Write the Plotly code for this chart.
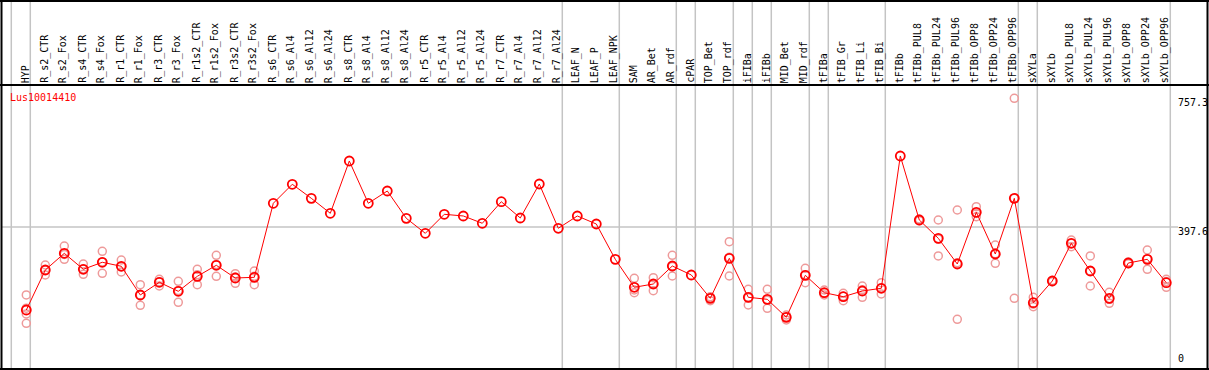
import plotly.graph_objects as go

# ---------------- data ----------------
samples = [
    "HYP", "R_s2_CTR", "R_s2_Fox", "R_s4_CTR", "R_s4_Fox", "R_r1_CTR", "R_r1_Fox",
    "R_r3_CTR", "R_r3_Fox", "R_r1s2_CTR", "R_r1s2_Fox", "R_r3s2_CTR", "R_r3s2_Fox",
    "R_s6_CTR", "R_s6_Al4", "R_s6_Al12", "R_s6_Al24", "R_s8_CTR", "R_s8_Al4",
    "R_s8_Al12", "R_s8_Al24", "R_r5_CTR", "R_r5_Al4", "R_r5_Al12", "R_r5_Al24",
    "R_r7_CTR", "R_r7_Al4", "R_r7_Al12", "R_r7_Al24", "LEAF_N", "LEAF_P", "LEAF_NPK",
    "SAM", "AR_Bet", "AR_rdf", "cPAR", "TOP_Bet", "TOP_rdf", "iFIBa", "iFIBb",
    "MID_Bet", "MID_rdf", "tFIBa", "tFIB_Gr", "tFIB_Li", "tFIB_Bi", "tFIBb",
    "tFIBb_PUL8", "tFIBb_PUL24", "tFIBb_PUL96", "tFIBb_OPP8", "tFIBb_OPP24",
    "tFIBb_OPP96", "sXYLa", "sXYLb", "sXYLb_PUL8", "sXYLb_PUL24", "sXYLb_PUL96",
    "sXYLb_OPP8", "sXYLb_OPP24", "sXYLb_OPP96",
]

# group sizes (separators are drawn between groups)
group_sizes = [1, 28, 3, 3, 1, 2, 1, 1, 2, 1, 3, 7, 1, 7]

mean_values = [
    165.7, 277.5, 324.2, 279.5, 299.1, 287.9, 207.7, 243.2, 218.0, 259.9, 290.7,
    255.2, 257.1, 464.0, 517.1, 477.9, 436.0, 582.2, 464.0, 498.3, 422.0, 380.1,
    433.2, 428.5, 408.1, 468.4, 422.9, 517.9, 394.1, 428.5, 406.1, 307.4, 229.2,
    238.4, 288.7, 263.6, 198.4, 310.2, 201.2, 195.6, 145.3, 262.7, 214.1, 202.9,
    218.8, 226.4, 596.2, 417.3, 366.1, 294.3, 438.8, 322.2, 477.9, 186.1, 246.8,
    352.2, 274.7, 198.4, 297.1, 307.4, 242.0,
]

replicates = [
    [207.7, 170.7, 154.6, 128.6], [291.5, 263.6, 277.5], [344.6, 307.4, 321.0],
    [294.3, 265.5, 280.0], [329.8, 268.3, 300.0], [305.5, 271.9, 287.0],
    [236.4, 178.9, 208.0], [251.5, 232.8, 245.0], [246.0, 187.3, 220.0],
    [279.5, 236.4, 264.0], [318.6, 259.9, 293.0], [267.2, 240.4, 258.0],
    [274.7, 236.4, 260.0],
    [], [], [], [], [], [], [], [], [], [], [], [], [], [], [], [], [], [], [],
    [254.3, 221.6, 214.1], [256.0, 219.7, 239.0], [318.6, 260.8, 287.0], [],
    [202.9, 191.7, 200.0], [356.6, 260.8, 313.0], [223.6, 179.7, 200.0],
    [223.6, 170.5, 193.0], [151.8, 137.8, 146.0], [282.3, 242.0, 264.0],
    [221.6, 207.7, 213.0], [212.4, 191.7, 204.0], [232.8, 201.2, 222.0],
    [242.0, 210.5, 227.0], [],
    [415.0, 420.0, 417.0], [417.3, 316.7, 364.3], [445.2, 139.7, 297.9],
    [454.5, 426.5, 435.4], [347.4, 296.3, 322.9], [757.3, 198.4, 478.0],
    [201.2, 175.0, 182.1], [245.0, 248.0, 247.0], [361.4, 342.7, 352.5],
    [316.7, 232.8, 274.6], [215.2, 184.5, 195.5], [300.0, 295.0, 297.0],
    [333.4, 279.5, 309.3], [251.5, 229.2, 245.3],
]

gene_name = "Lus10014410"
y_tick_values = [757.3, 397.6, 0]
y_tick_labels = ["757.3", "397.6", "0"]

# ---------------- layout geometry ----------------
W, H = 1209, 370
X0_PX, DX_PX = 26.3, 19.0          # pixel of first column, column step
Y0_PX, DY_PX = 369.3, 0.3578       # pixel of value 0, pixels per unit
HEADER_PX = 85
FONT = "DejaVu Sans Mono"

x_range = [(0 - X0_PX) / DX_PX, (W - X0_PX) / DX_PX]
y_range = [(Y0_PX - H) / DY_PX, Y0_PX / DY_PX]


def px_x(p):
    return p / W


def px_y(p):
    return 1 - p / H


xs = list(range(len(samples)))

fig = go.Figure()

rx, ry = [], []
for i, reps in enumerate(replicates):
    for v in reps:
        rx.append(i)
        ry.append(v)

fig.add_trace(go.Scatter(
    x=rx, y=ry, mode="markers",
    marker=dict(symbol="circle-open", size=8, color="#ee9a9a",
                line=dict(width=1.5, color="#ee9a9a")),
    hoverinfo="skip", showlegend=False))

fig.add_trace(go.Scatter(
    x=xs, y=mean_values, mode="lines+markers",
    line=dict(color="#ff0000", width=1),
    marker=dict(symbol="circle-open", size=9, color="#ff0000",
                line=dict(width=1.8, color="#ff0000")),
    showlegend=False))

shapes = []
# group separators
bounds = [-1]
acc = -1
for g in group_sizes:
    acc += g
    bounds.append(acc)
for b in bounds:
    shapes.append(dict(type="line", xref="x", yref="paper", x0=b + 0.21, x1=b + 0.21,
                       y0=0, y1=1, line=dict(color="#c4c4c4", width=1.5), layer="below"))
# horizontal gridline at middle tick
shapes.append(dict(type="line", xref="paper", yref="y", x0=px_x(1), x1=px_x(1178),
                   y0=y_tick_values[1], y1=y_tick_values[1],
                   line=dict(color="#c4c4c4", width=1.5), layer="below"))
# frame
black = dict(color="#000000", width=2)
shapes += [
    dict(type="line", xref="paper", yref="paper", x0=0, x1=1, y0=px_y(1), y1=px_y(1), line=black),
    dict(type="line", xref="paper", yref="paper", x0=0, x1=1, y0=px_y(HEADER_PX), y1=px_y(HEADER_PX), line=black),
    dict(type="line", xref="paper", yref="paper", x0=0, x1=1, y0=px_y(369), y1=px_y(369), line=black),
    dict(type="line", xref="paper", yref="paper", x0=px_x(1.5), x1=px_x(1.5), y0=0, y1=1, line=black),
    dict(type="line", xref="paper", yref="paper", x0=px_x(1207.5), x1=px_x(1207.5), y0=0, y1=1, line=black),
]

annotations = []
for i, name in enumerate(samples):
    annotations.append(dict(
        x=i, xref="x", y=px_y(HEADER_PX - 1), yref="paper", text=name,
        textangle=-90, showarrow=False, xanchor="center", yanchor="bottom",
        xshift=-1, font=dict(family=FONT, size=10, color="#000000"),
        borderpad=0))

annotations.append(dict(
    x=px_x(9), xref="paper", y=px_y(91), yref="paper", text=gene_name,
    showarrow=False, xanchor="left", yanchor="top",
    font=dict(family=FONT, size=10, color="#ff0000"), borderpad=0))

for v, lab in zip(y_tick_values, y_tick_labels):
    if v == 0:
        annotations.append(dict(
            x=px_x(1177), xref="paper", y=v, yref="y", text=lab, showarrow=False,
            xanchor="left", yanchor="bottom", yshift=4,
            font=dict(family=FONT, size=10, color="#000000"), borderpad=0))
    else:
        annotations.append(dict(
            x=px_x(1177), xref="paper", y=v, yref="y", text=lab, showarrow=False,
            xanchor="left", yanchor="top", yshift=2,
            font=dict(family=FONT, size=10, color="#000000"), borderpad=0))

fig.update_layout(
    width=W, height=H,
    margin=dict(l=0, r=0, t=0, b=0),
    paper_bgcolor="#ffffff", plot_bgcolor="#ffffff",
    xaxis=dict(range=x_range, visible=False, fixedrange=True),
    yaxis=dict(range=y_range, visible=False, fixedrange=True),
    shapes=shapes, annotations=annotations,
)

fig.write_html(
    "out.html",
    config={"displayModeBar": False},
    post_script="document.body.style.margin='0px';document.body.style.overflow='hidden';",
)
